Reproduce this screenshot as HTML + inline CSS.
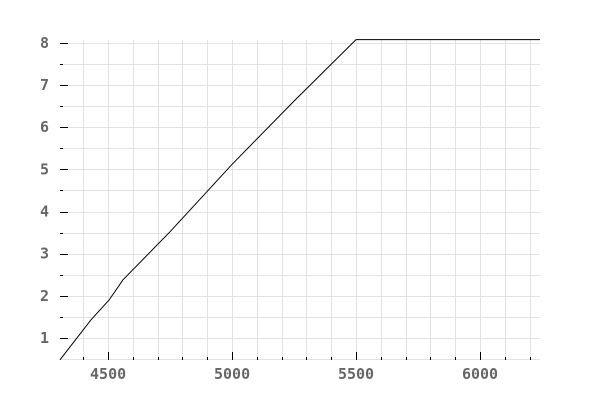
<!DOCTYPE html>
<html><head><meta charset="utf-8"><style>
html,body{margin:0;padding:0;background:#fff;}
svg{display:block;font-family:"DejaVu Sans Mono","Liberation Mono",monospace;}
</style></head><body>
<svg id="chart" width="600" height="400" viewBox="0 0 600 400"></svg>
<script>
const xs = [4306, 4431, 4504, 4560, 4750, 5000, 5250, 5500, 6242];
const ys = [0.48, 1.43, 1.90, 2.38, 3.52, 5.12, 6.62, 8.08, 8.08];
const xTicks = [4500, 5000, 5500, 6000];
const yTicks = [1, 2, 3, 4, 5, 6, 7, 8];
const xMin = 4306, xMax = 6242, yMin = 0.476, yMax = 8.07;
const L = 60, R = 540, T = 40, B = 360;
const sx = v => L + (v - xMin) / (xMax - xMin) * (R - L);
const sy = v => B - (v - yMin) / (yMax - yMin) * (B - T);
const svg = document.getElementById('chart');
const NS = 'http://www.w3.org/2000/svg';
function mk(tag, attrs, parent) {
  const e = document.createElementNS(NS, tag);
  for (const k in attrs) e.setAttribute(k, attrs[k]);
  (parent || svg).appendChild(e);
  return e;
}
const grid = mk('g', {});


for (let v = 4400; v <= 6200; v += 100) {
  const x = Math.round(sx(v)) + 0.5;
  mk('line', {x1: x, x2: x, y1: T, y2: B, stroke: '#e2e2e2', 'stroke-width': 1}, grid);
}
for (let v = 0.5; v <= 8.01; v += 0.5) {
  const y = Math.round(sy(v)) + 0.5;
  mk('line', {x1: L, x2: R, y1: y, y2: y, stroke: '#e2e2e2', 'stroke-width': 1}, grid);
}
const ax = mk('g', {});


for (let v = 4400; v <= 6200; v += 100) {
  const x = Math.round(sx(v)) + 0.5;
  const major = v % 500 === 0;
  mk('line', {x1: x, x2: x, y1: B, y2: B - (major ? 8 : 3), stroke: '#000', 'stroke-width': 1}, ax);
}
for (let v = 1; v <= 8.01; v += 0.5) {
  const y = Math.round(sy(v)) + 0.5;
  const major = v % 1 === 0;
  mk('line', {x1: L, x2: L + (major ? 8 : 3), y1: y, y2: y, stroke: '#000', 'stroke-width': 1}, ax);
}
xTicks.forEach(v => {
  const t = mk('text', {x: sx(v), y: 379, 'text-anchor': 'middle', 'font-size': 15, fill: '#666', 'font-weight': 'bold'}, ax);
  
  
  t.textContent = v;
});
yTicks.forEach(v => {
  const t = mk('text', {x: 49, y: sy(v) + 5, 'text-anchor': 'end', 'font-size': 15, fill: '#666', 'font-weight': 'bold'}, ax);
  
  
  t.textContent = v;
});
const pts = xs.map((x, i) => sx(x).toFixed(1) + ',' + sy(ys[i]).toFixed(1)).join(' ');
const line = mk('polyline', {points: pts, fill: 'none', stroke: '#000', 'stroke-width': 1});


</script>
</body></html>
